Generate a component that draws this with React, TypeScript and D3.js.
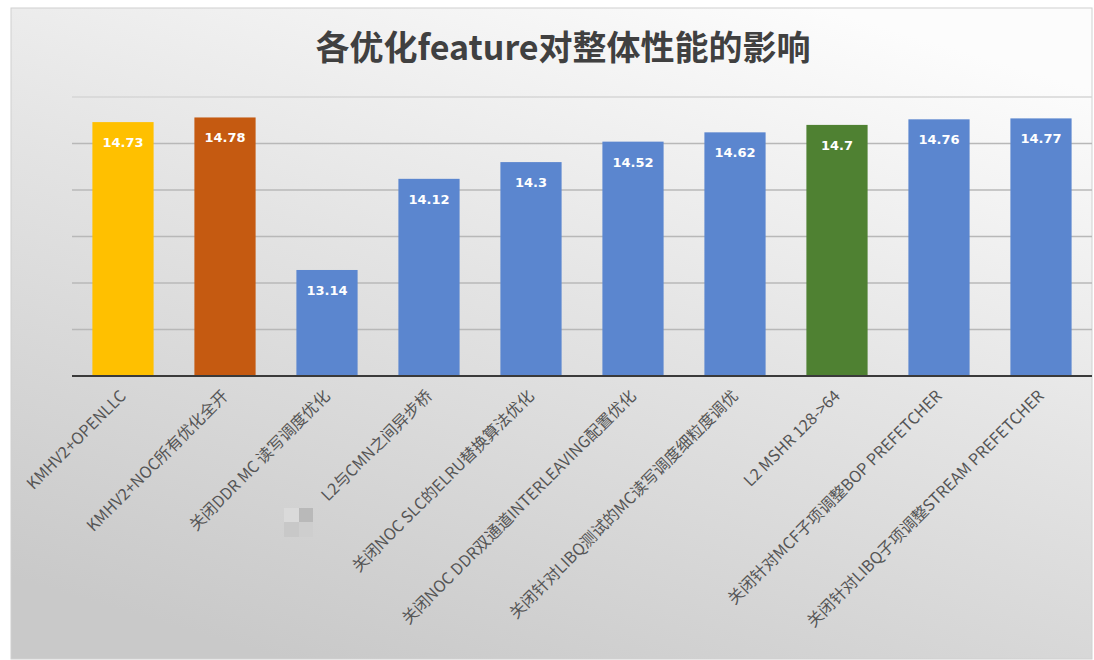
import React from "react";
import * as d3 from "d3";

const categories = [
  "KMHV2+OPENLLC",
  "KMHV2+NOC所有优化全开",
  "关闭DDR MC 读写调度优化",
  "L2与CMN之间异步桥",
  "关闭NOC SLC的ELRU替换算法优化",
  "关闭NOC DDR双通道INTERLEAVING配置优化",
  "关闭针对LIBQ测试的MC读写调度细粒度调优",
  "L2 MSHR 128->64",
  "关闭针对MCF子项调整BOP PREFETCHER",
  "关闭针对LIBQ子项调整STREAM PREFETCHER",
];
const values = [14.73, 14.78, 13.14, 14.12, 14.3, 14.52, 14.62, 14.7, 14.76, 14.77];
const barColors = [
  "#FFC000", "#C55A11", "#5B86CF", "#5B86CF", "#5B86CF",
  "#5B86CF", "#5B86CF", "#4F8132", "#5B86CF", "#5B86CF",
];
const gridTicks = [12.5, 13, 13.5, 14, 14.5, 15];
const title = "各优化feature对整体性能的影响";

const W = 1094;
const H = 660;

export default function App() {
  const x = d3.scaleBand<string>().domain(categories).range([72, 1092]).paddingInner(0.4).paddingOuter(0.2);
  const y = d3.scaleLinear().domain([12, 15]).range([376, 97]);
  return (
    <svg width={W} height={H} style={{ position: "absolute", left: 0, top: 0 }}>
      <defs>
        <linearGradient id="bg" x1="0.75" y1="0" x2="0.25" y2="1">
          <stop offset="0" stopColor="#fcfcfc" />
          <stop offset="0.45" stopColor="#e4e4e4" />
          <stop offset="1" stopColor="#c9c9c9" />
        </linearGradient>
      </defs>
      <rect x={0} y={0} width={W} height={H} fill="#ffffff" />
      <rect x={11} y={8} width={1081} height={651} fill="url(#bg)" stroke="#d0d0d0" strokeWidth={1} />
      <text
        x={563}
        y={60}
        textAnchor="middle"
        fontFamily="'Noto Sans CJK SC', sans-serif"
        fontWeight="bold"
        fontSize={34}
        fill="#404040"
      >
        {title}
      </text>
      {gridTicks.map((t) => (
        <line key={t} x1={72} x2={1092} y1={y(t)} y2={y(t)} stroke={t === 15 ? "#d6d6d6" : "#b8b8b8"} strokeWidth={1.3} />
      ))}
      {categories.map((c, i) => (
        <rect key={c} x={x(c)} y={y(values[i])} width={x.bandwidth()} height={y(12) - y(values[i])} fill={barColors[i]} />
      ))}
      <line x1={72} x2={1092} y1={y(12)} y2={y(12)} stroke="#3a3a3a" strokeWidth={2} />
      {categories.map((c, i) => (
        <text
          key={"v" + c}
          x={(x(c) as number) + x.bandwidth() / 2}
          y={y(values[i]) + 25}
          textAnchor="middle"
          fontFamily="'DejaVu Sans', sans-serif"
          fontWeight="bold"
          fontSize={13}
          fill="#ffffff"
        >
          {values[i]}
        </text>
      ))}
      {categories.map((c) => {
        const cx = (x(c) as number) + x.bandwidth() / 2 + 4;
        const cy = 397;
        return (
          <text
            key={"l" + c}
            x={cx}
            y={cy}
            textAnchor="end"
            fontFamily="'Noto Sans CJK SC', sans-serif"
            fontSize={16}
            fill="#555555"
            transform={`rotate(-45 ${cx} ${cy})`}
          >
            {c}
          </text>
        );
      })}
      <g>
        <rect x={284} y={508} width={15} height={14} fill="#dadada" />
        <rect x={299} y={508} width={14} height={14} fill="#b9b9b9" />
        <rect x={284} y={522} width={15} height={15} fill="#c8c8c8" />
        <rect x={299} y={522} width={14} height={15} fill="#cecece" />
      </g>
    </svg>
  );
}
